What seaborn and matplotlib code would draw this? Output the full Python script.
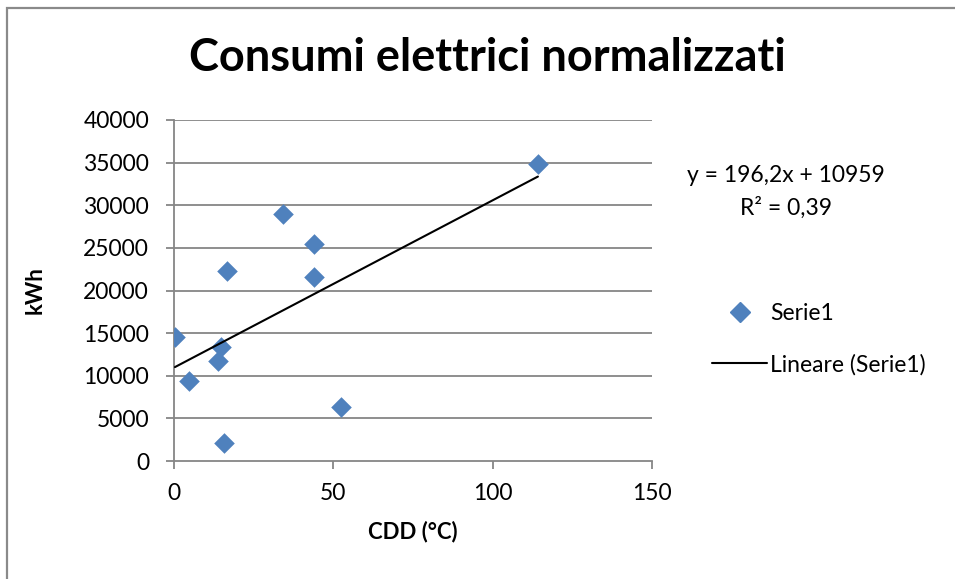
import numpy as np
import pandas as pd
import matplotlib
matplotlib.use("Agg")
import matplotlib.pyplot as plt
from matplotlib.lines import Line2D
from matplotlib.patches import Rectangle
import seaborn as sns

# Cooling degree days vs normalised electricity consumption
cdd = [0.3, 4.7, 15.7, 13.8, 14.7, 16.6, 34.2, 43.9, 43.9, 52.4, 114.2]
kwh = [14500, 9400, 2100, 11700, 13400, 22300, 28950, 25450, 21600, 6350, 34850]

# Linear trend as reported
slope = 196.2
intercept = 10959
r_squared = 0.39

x_ticks = [0, 50, 100, 150]
y_ticks = [0, 5000, 10000, 15000, 20000, 25000, 30000, 35000, 40000]

df = pd.DataFrame({"CDD": cdd, "kWh": kwh})

sns.set_theme(style="white")
plt.rcParams["font.family"] = ["Lato", "DejaVu Sans"]
plt.rcParams["text.color"] = "black"
plt.rcParams["xtick.labelcolor"] = "black"
plt.rcParams["ytick.labelcolor"] = "black"
plt.rcParams["axes.labelcolor"] = "black"

W, H = 955, 579
fig = plt.figure(figsize=(W / 100, H / 100), dpi=100)
ax = fig.add_axes([174 / W, 1 - 461 / H, (652 - 174) / W, (461 - 120) / H])

blue = "#4F81BD"
grey = "#868686"

for yv in y_ticks[1:]:
    ax.axhline(yv, color=grey, lw=1.3, zorder=0)

sns.scatterplot(data=df, x="CDD", y="kWh", marker="D", s=110, color=blue,
                edgecolor=blue, linewidth=0, ax=ax, zorder=3, legend=False)

xs = np.array([min(cdd), max(cdd)])
ax.plot(xs, slope * xs + intercept, color="black", lw=1.5, zorder=4)

ax.set_xlim(0, 150)
ax.set_ylim(0, 40000)
ax.set_xticks(x_ticks)
ax.set_yticks(y_ticks)
ax.set_xticklabels([str(v) for v in x_ticks], fontsize=16.5)
ax.set_yticklabels([str(v) for v in y_ticks], fontsize=16.5)
ax.tick_params(axis="both", direction="out", length=6, width=1.3, color=grey,
               left=True, bottom=True)
ax.tick_params(axis="x", pad=10)
ax.tick_params(axis="y", pad=12)
for side in ["top", "right"]:
    ax.spines[side].set_visible(False)
for side in ["left", "bottom"]:
    ax.spines[side].set_color(grey)
    ax.spines[side].set_linewidth(1.3)

ax.set_xlabel("CDD (°C)", fontsize=16, fontweight="bold", labelpad=12)
ax.set_ylabel("kWh", fontsize=16, fontweight="bold", labelpad=27)

fig.text(487 / W, 1 - 58 / H, "Consumi elettrici normalizzati", ha="center",
         va="center", fontsize=32.5, fontweight="bold")

fig.text(786 / W, 1 - 175 / H, f"y = {str(slope).replace('.', ',')}x + {intercept}",
         ha="center", va="center", fontsize=16.5)
fig.text(786 / W, 1 - 208 / H, f"R² = {str(r_squared).replace('.', ',')}",
         ha="center", va="center", fontsize=16.5)

handles = [
    Line2D([], [], marker="D", ls="none", color=blue, markersize=10.5),
    Line2D([], [], color="black", lw=1.5),
]
fig.legend(handles, ["Serie1", "Lineare (Serie1)"], loc="upper left",
           bbox_to_anchor=(712 / W, 1 - 303 / H), frameon=False, fontsize=16.5,
           handlelength=2.4, handletextpad=0.12, labelspacing=1.3,
           borderpad=0, borderaxespad=0)

fig.add_artist(Rectangle((7 / W, -0.1), 1.2, 1.1 - 8 / H,
                         transform=fig.transFigure, fill=False,
                         edgecolor="#8a8a8a", lw=1.6))

fig.savefig("out.png", dpi=100)
